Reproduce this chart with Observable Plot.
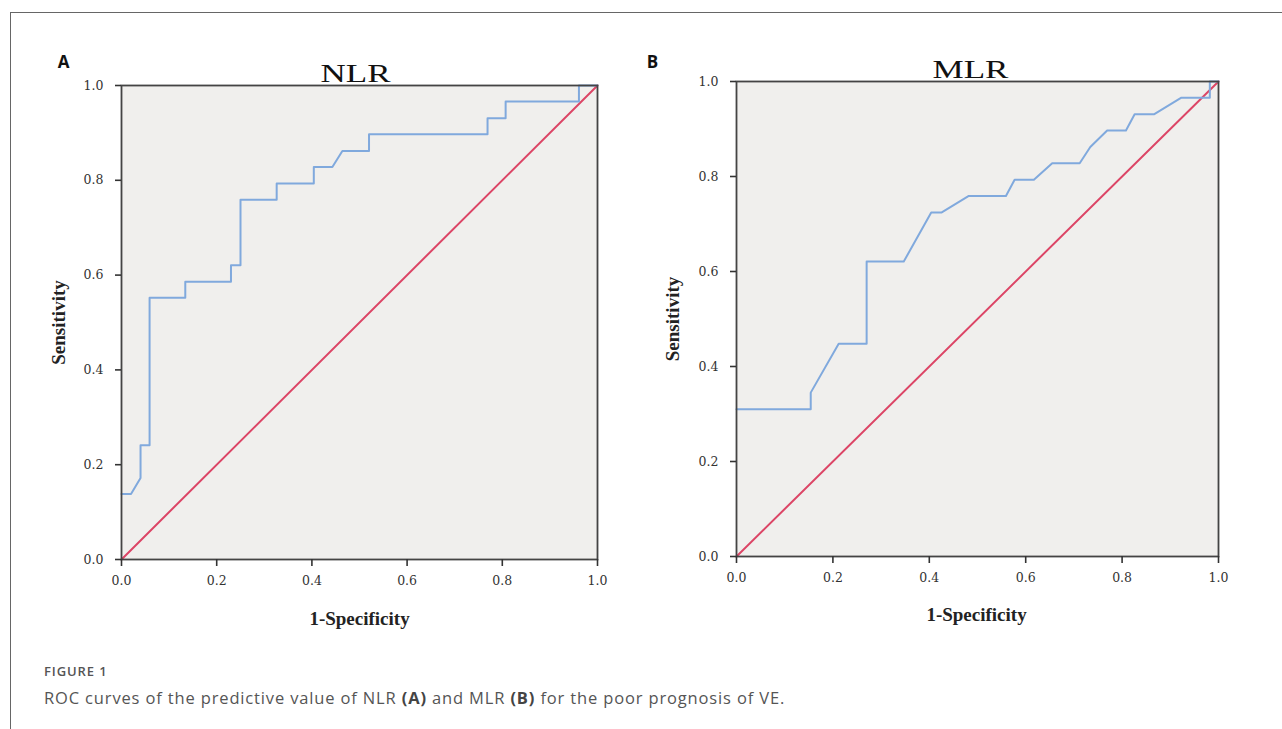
<!DOCTYPE html>
<html>
<head>
<meta charset="utf-8">
<script src="https://cdn.jsdelivr.net/npm/d3@7"></script>
<script src="https://cdn.jsdelivr.net/npm/@observablehq/plot@0.6"></script>
<style>
  html, body { margin: 0; padding: 0; background: #fff; }
  #page { position: relative; width: 1282px; height: 729px; overflow: hidden; }
  #frameTop { position: absolute; left: 10px; top: 12px; width: 1272px; height: 0; border-top: 1.5px solid #666; }
  #frameLeft { position: absolute; left: 10px; top: 12px; width: 0; height: 717px; border-left: 1.5px solid #666; }
  .panel { position: absolute; top: 0; }
  #caption { position: absolute; left: 44px; top: 662px; font-family: "Open Sans", sans-serif; color: #555; }
  #caption .fig { font-size: 13px; font-weight: 600; letter-spacing: 0.9px; }
  #caption .txt { font-size: 16.5px; margin-top: 6px; letter-spacing: 0.85px; }
  #caption b { font-weight: 700; color: #444; }
</style>
</head>
<body>
<div id="page">
  <div id="frameTop"></div>
  <div id="frameLeft"></div>
  <div id="panelA" class="panel" style="left:0px"></div>
  <div id="panelB" class="panel" style="left:640px"></div>
  <div id="caption">
    <div class="fig">FIGURE 1</div>
    <div class="txt">ROC curves of the predictive value of NLR <b>(A)</b> and MLR <b>(B)</b> for the poor prognosis of VE.</div>
  </div>
</div>
<script>
// ---- Data ----
const ticks = [0, 0.2, 0.4, 0.6, 0.8, 1.0];
const reference = [0, 1];

const nlrFpr = [0, 0.020, 0.040, 0.040, 0.059, 0.059, 0.134, 0.134, 0.230, 0.230, 0.250, 0.250, 0.326, 0.326, 0.404, 0.404, 0.443, 0.464, 0.520, 0.520, 0.769, 0.769, 0.807, 0.807, 0.961, 0.961, 1.0];
const nlrTpr = [0.138, 0.138, 0.172, 0.241, 0.241, 0.552, 0.552, 0.586, 0.586, 0.621, 0.621, 0.759, 0.759, 0.793, 0.793, 0.828, 0.828, 0.862, 0.862, 0.897, 0.897, 0.931, 0.931, 0.966, 0.966, 1.0, 1.0];

const mlrFpr = [0, 0.154, 0.154, 0.212, 0.270, 0.270, 0.347, 0.404, 0.425, 0.482, 0.559, 0.577, 0.617, 0.655, 0.712, 0.734, 0.769, 0.808, 0.826, 0.866, 0.923, 0.982, 0.982, 1.0];
const mlrTpr = [0.310, 0.310, 0.345, 0.448, 0.448, 0.621, 0.621, 0.724, 0.724, 0.759, 0.759, 0.793, 0.793, 0.828, 0.828, 0.862, 0.897, 0.897, 0.931, 0.931, 0.966, 0.966, 1.0, 1.0];

const panels = [
  {id: "panelA", letter: "A", title: "NLR", fpr: nlrFpr, tpr: nlrTpr,
   width: 640, height: 640, mL: 121, mR: 43, mT: 85, mB: 81,
   titleLen: 70, titleDx: -4, letterDx: -58, letterDy: -23, ylabDx: -63, xlabDy: 59, xlabDx: 0},
  {id: "panelB", letter: "B", title: "MLR", fpr: mlrFpr, tpr: mlrTpr,
   width: 642, height: 640, mL: 96, mR: 64, mT: 81, mB: 84,
   titleLen: 76, titleDx: -7, letterDx: -84, letterDy: -19, ylabDx: -64, xlabDy: 58, xlabDx: -1}
];

const serif = "'Liberation Serif', 'Times New Roman', serif";
const tickFont = "'DejaVu Serif', serif";

for (const p of panels) {
  const pts = p.fpr.map((x, i) => ({x, y: p.tpr[i]}));
  const diag = reference.map(v => ({x: v, y: v}));
  const chart = Plot.plot({
    width: p.width,
    height: p.height,
    marginLeft: p.mL, marginRight: p.mR, marginTop: p.mT, marginBottom: p.mB,
    style: {background: "transparent", overflow: "visible", fontFamily: tickFont, fontSize: "12px", color: "#333"},
    x: {domain: [0, 1], ticks, nice: false},
    y: {domain: [0, 1], ticks, nice: false},
    marks: [
      Plot.frame({fill: "#f0efed", stroke: "none"}),
      Plot.line(diag, {x: "x", y: "y", stroke: "#dc4566", strokeWidth: 2}),
      Plot.line(pts, {x: "x", y: "y", stroke: "#80a9dd", strokeWidth: 2, curve: "linear"}),
      Plot.frame({stroke: "#444", strokeWidth: 1.8}),
      Plot.axisX({ticks, tickFormat: d3.format(".1f"), tickSize: 7, tickPadding: 10, stroke: "#333", strokeWidth: 1.6, fill: "#333", fontSize: 12.5, fontFamily: tickFont, label: null}),
      Plot.axisY({ticks, tickFormat: d3.format(".1f"), tickSize: 6, tickPadding: 12, stroke: "#333", strokeWidth: 1.6, fill: "#333", fontSize: 12.5, fontFamily: tickFont, label: null}),
      Plot.text([p.title], {frameAnchor: "top", dx: p.titleDx, dy: -4, lineAnchor: "bottom", fontSize: 25, fontFamily: serif, fill: "#111", className: "ptitle"}),
      Plot.text([p.letter], {frameAnchor: "top-left", dx: p.letterDx, dy: p.letterDy, textAnchor: "middle", lineAnchor: "middle", fontSize: 17, fontWeight: "bold", fontFamily: "'Open Sans', sans-serif", fill: "#111"}),
      Plot.text(["Sensitivity"], {frameAnchor: "left", dx: p.ylabDx, rotate: -90, textAnchor: "middle", lineAnchor: "middle", fontSize: 19, fontWeight: "bold", fontFamily: serif, fill: "#222"}),
      Plot.text(["1-Specificity"], {frameAnchor: "bottom", dx: p.xlabDx, dy: p.xlabDy, textAnchor: "middle", lineAnchor: "middle", fontSize: 19, fontWeight: "bold", fontFamily: serif, fill: "#222"})
    ]
  });
  d3.select(chart).selectAll(".ptitle text")
    .attr("textLength", p.titleLen)
    .attr("lengthAdjust", "spacingAndGlyphs");
  document.getElementById(p.id).appendChild(chart);
}
</script>
</body>
</html>
